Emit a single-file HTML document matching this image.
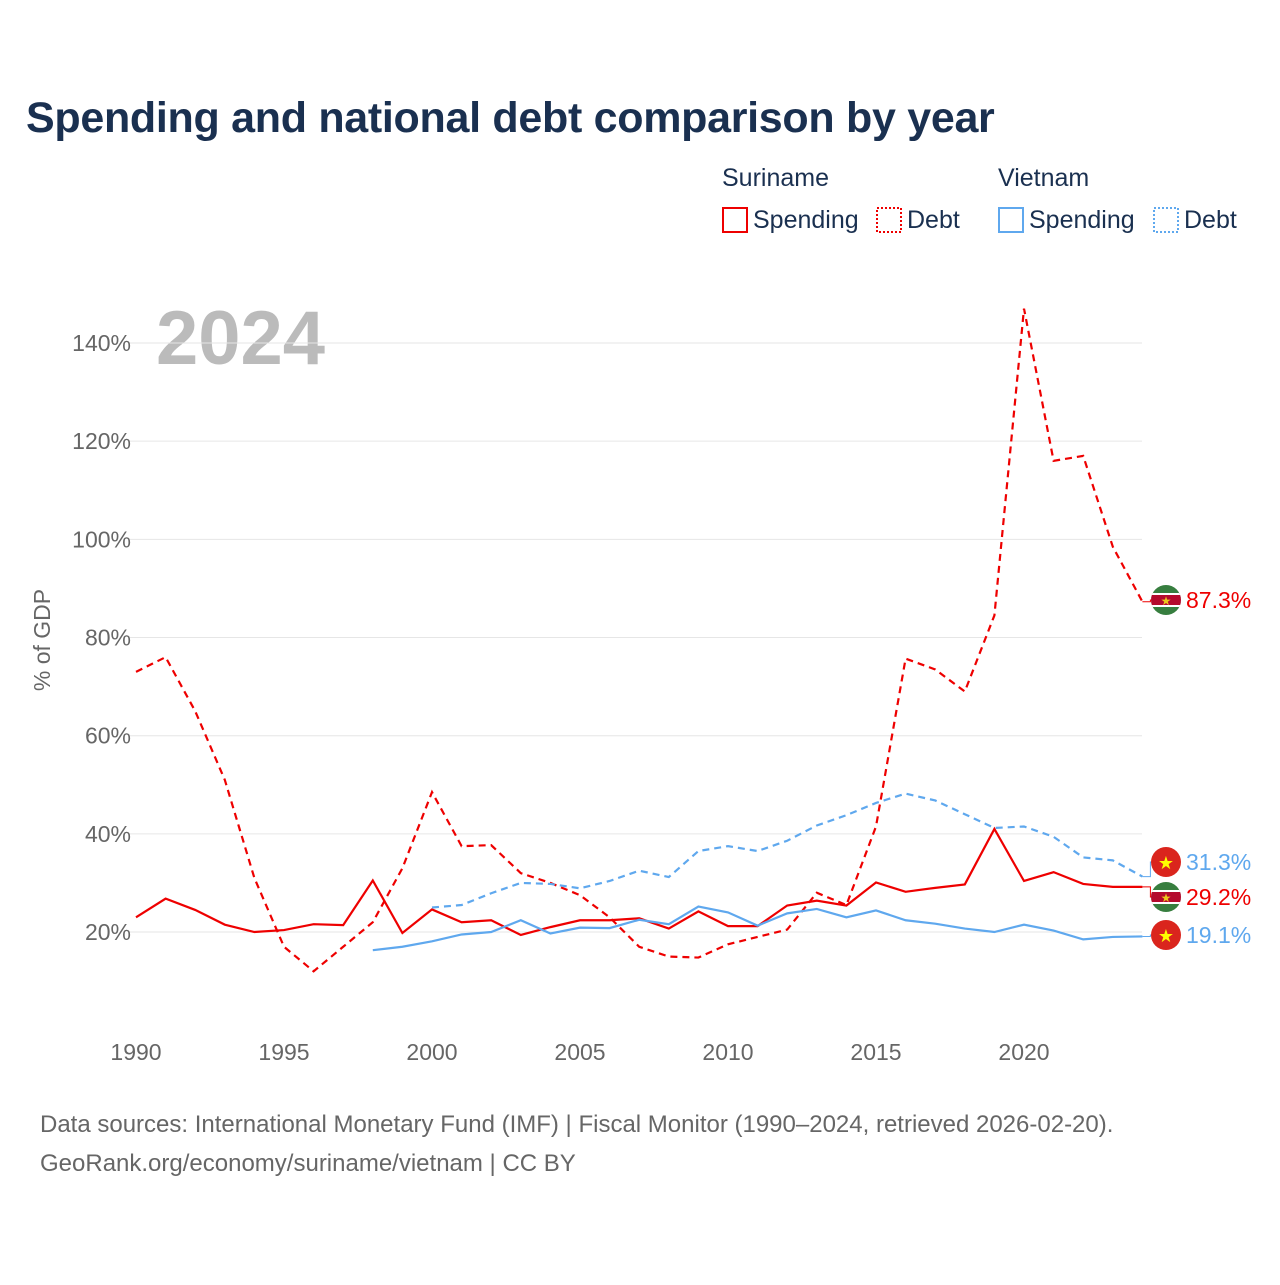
<!DOCTYPE html>
<html><head><meta charset="utf-8"><style>
body{margin:0;background:#fff;font-family:"Liberation Sans",sans-serif}
svg text{font-family:"Liberation Sans",sans-serif}
</style></head><body>
<svg id="c" width="1280" height="1280" xmlns="http://www.w3.org/2000/svg">
<text x="26" y="132" font-size="43" font-weight="bold" fill="#1a3050" letter-spacing="-0.3">Spending and national debt comparison by year</text>
<g font-size="25" fill="#1a3050">
<text x="722" y="186" fill="#1a3050">Suriname</text>
<text x="998" y="186" fill="#1a3050">Vietnam</text>
<rect x="723" y="208" width="24" height="24" fill="none" stroke="#e00" stroke-width="2"/>
<text x="753" y="228" fill="#1a3050">Spending</text>
<rect x="877" y="208" width="24" height="24" fill="none" stroke="#e00" stroke-width="2" stroke-dasharray="2,2"/>
<text x="907" y="228" fill="#1a3050">Debt</text>
<rect x="999" y="208" width="24" height="24" fill="none" stroke="#5fa8ee" stroke-width="2"/>
<text x="1029" y="228" fill="#1a3050">Spending</text>
<rect x="1154" y="208" width="24" height="24" fill="none" stroke="#5fa8ee" stroke-width="2" stroke-dasharray="2,2"/>
<text x="1184" y="228" fill="#1a3050">Debt</text>
</g>
<text x="156" y="364" font-size="76" font-weight="bold" fill="#bbb">2024</text>
<text transform="translate(50,640) rotate(-90)" text-anchor="middle" font-size="23" fill="#666">% of GDP</text>
<g id="grid"></g><g id="xt"></g><g id="lines"></g><g id="ends"></g>
<text x="40" y="1132" font-size="24" fill="#666">Data sources: International Monetary Fund (IMF) | Fiscal Monitor (1990–2024, retrieved 2026-02-20).</text>
<text x="40" y="1171" font-size="24" fill="#666">GeoRank.org/economy/suriname/vietnam | CC BY</text>
</svg>
<script>
const yTicks=[20,40,60,80,100,120,140];
const xTicks=[1990,1995,2000,2005,2010,2015,2020];
const srDebtYears=[1990,1991,1992,1993,1994,1995,1996,1997,1998,1999,2000,2001,2002,2003,2004,2005,2006,2007,2008,2009,2010,2011,2012,2013,2014,2015,2016,2017,2018,2019,2020,2021,2022,2023,2024];
const srDebt=[73,76,65,51,31,17,12,17,22,33,48.5,37.5,37.7,32,30,27.5,23,17,15,14.8,17.5,19,20.5,28,25.5,41.5,75.7,73.5,69,84.5,147,116,117,98.5,87.3];
const srSpend=[23,26.8,24.5,21.5,20,20.4,21.6,21.4,30.5,19.8,24.6,22,22.4,19.4,21,22.4,22.4,22.8,20.7,24.2,21.2,21.2,25.4,26.4,25.4,30.1,28.2,29,29.7,41,30.4,32.2,29.8,29.2,29.2];
const vnSpendYears=[1998,1999,2000,2001,2002,2003,2004,2005,2006,2007,2008,2009,2010,2011,2012,2013,2014,2015,2016,2017,2018,2019,2020,2021,2022,2023,2024];
const vnSpend=[16.3,17,18.1,19.5,20,22.4,19.7,20.9,20.8,22.5,21.6,25.2,24,21.3,23.8,24.7,23,24.4,22.4,21.7,20.7,20,21.5,20.3,18.5,19,19.1];
const vnDebtYears=[2000,2001,2002,2003,2004,2005,2006,2007,2008,2009,2010,2011,2012,2013,2014,2015,2016,2017,2018,2019,2020,2021,2022,2023,2024];
const vnDebt=[25,25.5,27.9,30,29.8,28.9,30.4,32.5,31.2,36.5,37.5,36.5,38.6,41.7,43.8,46.3,48.2,46.8,44,41.2,41.5,39.4,35.2,34.6,31.3];
const X=y=>136+(y-1990)*29.6, Y=v=>1030.2-v*4.9085;
const NS="http://www.w3.org/2000/svg";
function mk(p,t,a){const e=document.createElementNS(NS,t);for(const k in a)e.setAttribute(k,a[k]);document.getElementById(p).appendChild(e);return e;}
yTicks.forEach(v=>{
 const l=mk('grid','line',{x1:130,x2:1142,y1:Y(v),y2:Y(v),stroke:'#e6e6e6'});
 
 
 const t=mk('grid','text',{x:131,y:Y(v)+8,'text-anchor':'end','font-size':23,fill:'#666'});t.textContent=v+'%';
 
 
});
xTicks.forEach(v=>{
 const t=mk('xt','text',{x:X(v),y:1060,'text-anchor':'middle','font-size':23,fill:'#666'});t.textContent=v;
 
 
});
function line(xs,vs,c,d,n){
 const p=mk('lines','path',{d:xs.map((x,i)=>(i?'L':'M')+X(x)+','+Y(vs[i])).join(''),fill:'none',stroke:c,'stroke-width':2.2,'stroke-dasharray':d});
 
 
}
line(srDebtYears,srDebt,'#e00','7,5','suriname-debt-line');
line(srDebtYears,srSpend,'#e00','none','suriname-spending-line');
line(vnSpendYears,vnSpend,'#5fa8ee','none','vietnam-spending-line');
line(vnDebtYears,vnDebt,'#5fa8ee','7,5','vietnam-debt-line');
function end(v,ly,c,flag,n){
 const g=mk('ends','g',{});
 
 
 const y0=Y(v),x0=X(2024);
 const e=document.createElementNS(NS,'path');e.setAttribute('d',`M${x0},${y0}H${x0+8}V${ly}H${x0+12}`);e.setAttribute('stroke',c);e.setAttribute('fill','none');g.appendChild(e);
 const cx=1166;
 if(flag==='vn'){g.innerHTML+=`<circle cx="${cx}" cy="${ly}" r="15" fill="#da251d"/><text x="${cx}" y="${ly+7}" text-anchor="middle" font-size="18" fill="#ff0">★</text>`;}
 else{g.innerHTML+=`<clipPath id="cp${n}"><circle cx="${cx}" cy="${ly}" r="15"/></clipPath><g clip-path="url(#cp${n})"><rect x="${cx-15}" y="${ly-15}" width="30" height="30" fill="#377e3f"/><rect x="${cx-15}" y="${ly-7}" width="30" height="14" fill="#fff"/><rect x="${cx-15}" y="${ly-5}" width="30" height="10" fill="#b40a2d"/></g><text x="${cx}" y="${ly+5}" text-anchor="middle" font-size="12" fill="#ecc81d">★</text>`;}
 g.innerHTML+=`<text x="1186" y="${ly+8}" font-size="23" fill="${c}">${v}%</text>`;
}
end(srDebt[srDebt.length-1],600,'#e00','sr','end-label-suriname-debt');
end(vnDebt[vnDebt.length-1],862,'#5fa8ee','vn','end-label-vietnam-debt');
end(srSpend[srSpend.length-1],897,'#e00','sr','end-label-suriname-spending');
end(vnSpend[vnSpend.length-1],935,'#5fa8ee','vn','end-label-vietnam-spending');
</script>
</body></html>
